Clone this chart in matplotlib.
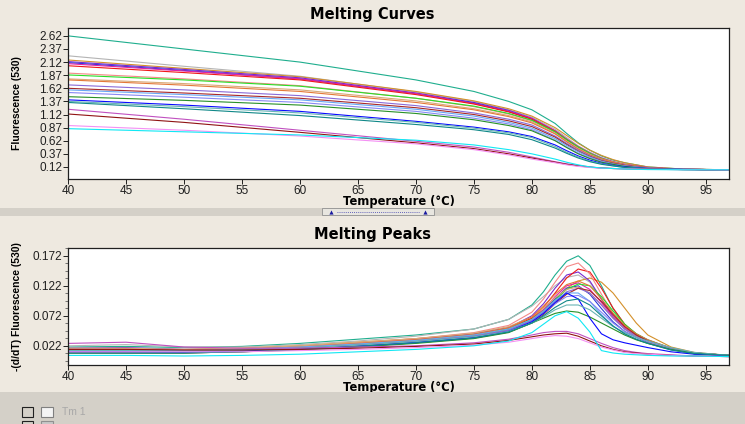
import numpy as np
import matplotlib
matplotlib.use("Agg")
import matplotlib.pyplot as plt
from matplotlib.patches import Rectangle
from matplotlib.ticker import MultipleLocator, FixedLocator

# temperature grids the values were read at
temp_curves = [40, 50, 60, 70, 75, 78, 80, 82, 83, 84, 85, 86, 87, 88, 90, 93, 97]
temp_peaks = [40, 45, 50, 55, 60, 65, 70, 75, 78, 80, 81, 82, 83, 84, 85, 86, 87, 88, 89, 90, 92, 94, 97]

colors = ['#1fae8e', '#b4b4b4', '#d4902a', '#7a2ad0', '#2a3ad8', '#e020a8', '#f01818',
          '#f48888', '#28e028', '#d8aa78', '#e47838', '#8a6ad8', '#a82828', '#68a8f4',
          '#8888f4', '#289028', '#0808ff', '#68b4b4', '#108888', '#c050c0', '#901414',
          '#f490f4', '#10e8f4']

# Fluorescence (530), one row per sample
fluor = [
    [2.62, 2.37, 2.12, 1.78, 1.56, 1.37, 1.21, 0.95, 0.76, 0.58, 0.44, 0.33, 0.25, 0.20, 0.12, 0.08, 0.065],
    [2.24, 2.04, 1.85, 1.55, 1.37, 1.21, 1.07, 0.84, 0.68, 0.52, 0.40, 0.30, 0.23, 0.18, 0.11, 0.08, 0.065],
    [2.16, 2.00, 1.84, 1.56, 1.38, 1.23, 1.09, 0.87, 0.72, 0.57, 0.44, 0.34, 0.26, 0.20, 0.12, 0.08, 0.065],
    [2.13, 1.98, 1.82, 1.53, 1.35, 1.20, 1.05, 0.81, 0.65, 0.50, 0.37, 0.28, 0.21, 0.16, 0.10, 0.075, 0.065],
    [2.11, 1.96, 1.80, 1.52, 1.34, 1.18, 1.03, 0.79, 0.63, 0.48, 0.36, 0.27, 0.21, 0.16, 0.10, 0.075, 0.065],
    [2.09, 1.95, 1.80, 1.52, 1.33, 1.18, 1.04, 0.81, 0.65, 0.51, 0.39, 0.29, 0.22, 0.17, 0.11, 0.075, 0.065],
    [2.05, 1.92, 1.78, 1.50, 1.32, 1.17, 1.03, 0.80, 0.64, 0.49, 0.36, 0.27, 0.21, 0.16, 0.10, 0.075, 0.065],
    [1.91, 1.80, 1.67, 1.43, 1.27, 1.13, 1.00, 0.78, 0.62, 0.48, 0.36, 0.27, 0.21, 0.16, 0.10, 0.075, 0.065],
    [1.875, 1.78, 1.66, 1.43, 1.28, 1.14, 1.01, 0.79, 0.64, 0.50, 0.38, 0.28, 0.21, 0.16, 0.10, 0.075, 0.065],
    [1.80, 1.71, 1.59, 1.38, 1.23, 1.10, 0.98, 0.76, 0.61, 0.47, 0.36, 0.27, 0.21, 0.16, 0.10, 0.075, 0.065],
    [1.78, 1.68, 1.56, 1.35, 1.21, 1.08, 0.96, 0.75, 0.60, 0.46, 0.35, 0.27, 0.21, 0.16, 0.10, 0.075, 0.065],
    [1.685, 1.59, 1.48, 1.29, 1.15, 1.03, 0.92, 0.71, 0.57, 0.44, 0.33, 0.25, 0.19, 0.15, 0.10, 0.075, 0.065],
    [1.62, 1.53, 1.43, 1.25, 1.12, 1.00, 0.89, 0.69, 0.55, 0.42, 0.32, 0.24, 0.19, 0.15, 0.10, 0.075, 0.065],
    [1.59, 1.50, 1.40, 1.22, 1.09, 0.97, 0.86, 0.66, 0.53, 0.41, 0.31, 0.23, 0.18, 0.14, 0.095, 0.075, 0.065],
    [1.54, 1.45, 1.35, 1.18, 1.05, 0.94, 0.83, 0.63, 0.50, 0.38, 0.29, 0.22, 0.17, 0.14, 0.095, 0.075, 0.065],
    [1.46, 1.39, 1.30, 1.14, 1.02, 0.91, 0.81, 0.62, 0.49, 0.37, 0.28, 0.21, 0.17, 0.13, 0.09, 0.072, 0.065],
    [1.40, 1.30, 1.18, 0.99, 0.88, 0.79, 0.70, 0.54, 0.43, 0.33, 0.25, 0.19, 0.15, 0.12, 0.09, 0.072, 0.065],
    [1.37, 1.27, 1.15, 0.97, 0.86, 0.77, 0.68, 0.51, 0.40, 0.31, 0.23, 0.18, 0.14, 0.11, 0.085, 0.07, 0.065],
    [1.35, 1.23, 1.10, 0.93, 0.83, 0.74, 0.64, 0.48, 0.38, 0.29, 0.22, 0.17, 0.14, 0.11, 0.085, 0.07, 0.065],
    [1.22, 1.03, 0.82, 0.61, 0.50, 0.40, 0.31, 0.22, 0.18, 0.15, 0.12, 0.10, 0.09, 0.085, 0.075, 0.07, 0.065],
    [1.13, 0.97, 0.78, 0.58, 0.47, 0.37, 0.29, 0.21, 0.17, 0.14, 0.115, 0.10, 0.09, 0.085, 0.075, 0.07, 0.065],
    [0.91, 0.82, 0.71, 0.56, 0.45, 0.35, 0.27, 0.20, 0.16, 0.13, 0.11, 0.095, 0.09, 0.085, 0.075, 0.07, 0.065],
    [0.85, 0.79, 0.73, 0.63, 0.54, 0.45, 0.37, 0.27, 0.21, 0.16, 0.12, 0.10, 0.09, 0.08, 0.07, 0.065, 0.065],
]

# -(d/dT) Fluorescence (530), same sample order
deriv = [
    [0.020, 0.021, 0.019, 0.021, 0.026, 0.033, 0.040, 0.050, 0.066, 0.090, 0.112, 0.140, 0.163, 0.172, 0.156, 0.122, 0.084, 0.058, 0.042, 0.032, 0.018, 0.010, 0.006],
    [0.022, 0.024, 0.020, 0.020, 0.024, 0.030, 0.038, 0.050, 0.066, 0.088, 0.104, 0.122, 0.136, 0.140, 0.128, 0.100, 0.072, 0.052, 0.038, 0.028, 0.016, 0.009, 0.006],
    [0.016, 0.017, 0.016, 0.018, 0.022, 0.028, 0.034, 0.042, 0.052, 0.068, 0.082, 0.100, 0.118, 0.130, 0.135, 0.128, 0.110, 0.085, 0.060, 0.040, 0.020, 0.011, 0.006],
    [0.018, 0.019, 0.016, 0.017, 0.021, 0.027, 0.033, 0.042, 0.052, 0.072, 0.092, 0.118, 0.140, 0.145, 0.130, 0.100, 0.070, 0.050, 0.037, 0.028, 0.016, 0.009, 0.006],
    [0.013, 0.013, 0.012, 0.014, 0.018, 0.023, 0.029, 0.037, 0.047, 0.064, 0.080, 0.100, 0.118, 0.122, 0.108, 0.084, 0.062, 0.046, 0.036, 0.028, 0.016, 0.009, 0.006],
    [0.012, 0.012, 0.012, 0.014, 0.018, 0.024, 0.030, 0.038, 0.048, 0.066, 0.082, 0.104, 0.122, 0.127, 0.116, 0.094, 0.070, 0.052, 0.040, 0.031, 0.018, 0.010, 0.006],
    [0.014, 0.015, 0.014, 0.016, 0.020, 0.026, 0.032, 0.040, 0.050, 0.068, 0.086, 0.110, 0.135, 0.150, 0.145, 0.118, 0.085, 0.058, 0.040, 0.029, 0.016, 0.009, 0.006],
    [0.016, 0.016, 0.015, 0.017, 0.021, 0.027, 0.034, 0.044, 0.056, 0.078, 0.100, 0.128, 0.154, 0.160, 0.142, 0.108, 0.076, 0.054, 0.040, 0.030, 0.017, 0.010, 0.006],
    [0.014, 0.014, 0.013, 0.015, 0.019, 0.025, 0.031, 0.040, 0.050, 0.066, 0.080, 0.098, 0.116, 0.125, 0.122, 0.104, 0.080, 0.058, 0.042, 0.031, 0.017, 0.010, 0.006],
    [0.018, 0.018, 0.016, 0.018, 0.022, 0.028, 0.034, 0.043, 0.054, 0.070, 0.085, 0.102, 0.116, 0.120, 0.110, 0.090, 0.068, 0.050, 0.038, 0.029, 0.017, 0.010, 0.006],
    [0.015, 0.015, 0.014, 0.016, 0.020, 0.026, 0.032, 0.041, 0.052, 0.070, 0.088, 0.108, 0.124, 0.130, 0.122, 0.100, 0.076, 0.056, 0.042, 0.032, 0.018, 0.010, 0.006],
    [0.013, 0.013, 0.012, 0.014, 0.018, 0.023, 0.029, 0.038, 0.048, 0.064, 0.078, 0.096, 0.112, 0.118, 0.110, 0.090, 0.068, 0.050, 0.039, 0.030, 0.017, 0.010, 0.006],
    [0.010, 0.010, 0.010, 0.012, 0.016, 0.021, 0.027, 0.035, 0.045, 0.060, 0.074, 0.092, 0.108, 0.118, 0.114, 0.096, 0.074, 0.054, 0.040, 0.030, 0.017, 0.010, 0.006],
    [0.015, 0.015, 0.014, 0.016, 0.020, 0.025, 0.031, 0.040, 0.050, 0.066, 0.080, 0.098, 0.110, 0.110, 0.096, 0.074, 0.055, 0.042, 0.033, 0.026, 0.015, 0.009, 0.006],
    [0.012, 0.012, 0.011, 0.013, 0.017, 0.022, 0.028, 0.036, 0.046, 0.062, 0.076, 0.092, 0.104, 0.106, 0.096, 0.078, 0.060, 0.046, 0.036, 0.029, 0.017, 0.010, 0.006],
    [0.010, 0.010, 0.010, 0.012, 0.015, 0.020, 0.026, 0.034, 0.044, 0.060, 0.068, 0.076, 0.080, 0.078, 0.070, 0.060, 0.050, 0.040, 0.032, 0.026, 0.016, 0.010, 0.006],
    [0.012, 0.012, 0.011, 0.013, 0.017, 0.022, 0.028, 0.036, 0.046, 0.062, 0.076, 0.094, 0.110, 0.100, 0.068, 0.042, 0.032, 0.027, 0.023, 0.019, 0.012, 0.008, 0.005],
    [0.014, 0.014, 0.013, 0.015, 0.018, 0.023, 0.029, 0.037, 0.046, 0.060, 0.070, 0.082, 0.090, 0.090, 0.082, 0.068, 0.054, 0.044, 0.036, 0.030, 0.019, 0.011, 0.006],
    [0.010, 0.010, 0.010, 0.012, 0.016, 0.021, 0.027, 0.035, 0.045, 0.060, 0.072, 0.086, 0.097, 0.100, 0.090, 0.072, 0.055, 0.042, 0.033, 0.026, 0.015, 0.009, 0.006],
    [0.026, 0.028, 0.020, 0.018, 0.018, 0.020, 0.022, 0.027, 0.033, 0.040, 0.044, 0.046, 0.046, 0.042, 0.034, 0.026, 0.019, 0.014, 0.011, 0.009, 0.007, 0.005, 0.004],
    [0.016, 0.016, 0.015, 0.015, 0.016, 0.018, 0.021, 0.025, 0.031, 0.037, 0.040, 0.042, 0.043, 0.038, 0.030, 0.022, 0.016, 0.012, 0.010, 0.008, 0.006, 0.005, 0.004],
    [0.012, 0.012, 0.012, 0.012, 0.014, 0.016, 0.019, 0.023, 0.028, 0.034, 0.037, 0.039, 0.038, 0.034, 0.027, 0.020, 0.015, 0.011, 0.009, 0.008, 0.006, 0.005, 0.004],
    [0.006, 0.006, 0.005, 0.006, 0.008, 0.012, 0.016, 0.022, 0.030, 0.044, 0.058, 0.072, 0.079, 0.068, 0.045, 0.014, 0.010, 0.008, 0.007, 0.006, 0.005, 0.005, 0.004],
]

curve_ticks = [0.12, 0.37, 0.62, 0.87, 1.12, 1.37, 1.62, 1.87, 2.12, 2.37, 2.62]
peak_ticks = [0.022, 0.072, 0.122, 0.172]

bg = '#eee9e0'
panel_grey = '#d4d0c8'
W, H = 745.0, 424.0
plt.rcParams['font.family'] = ['Liberation Sans', 'DejaVu Sans']

fig = plt.figure(figsize=(7.45, 4.24), dpi=100, facecolor=bg)


def fx(px):
    return px / W


def fy(py):
    return 1 - py / H


# axes boxes measured in pixels: left, top, right, bottom
ax1 = fig.add_axes([fx(68), fy(179), fx(729 - 68), (179 - 28) / H])
ax2 = fig.add_axes([fx(68), fy(365), fx(729 - 68), (365 - 248) / H])

for i, c in enumerate(colors):
    ax1.plot(temp_curves, fluor[i], color=c, lw=0.8)
    ax2.plot(temp_peaks, deriv[i], color=c, lw=0.8)

ax1.set_ylim(-0.11, 2.77)
ax1.yaxis.set_major_locator(FixedLocator(curve_ticks))
ax1.set_yticklabels(['%.2f' % t for t in curve_ticks])
ax2.set_ylim(-0.010, 0.185)
ax2.yaxis.set_major_locator(FixedLocator(peak_ticks))
ax2.set_yticklabels(['%.3f' % t for t in peak_ticks])
ax2.yaxis.set_minor_locator(FixedLocator(np.arange(-0.0155, 0.185, 0.0125)))

for ax, ax_h in ((ax1, 151.0), (ax2, 117.0)):
    ax.set_xlim(40, 97)
    ax.xaxis.set_major_locator(MultipleLocator(5))
    ax.set_facecolor('white')
    for s in ax.spines.values():
        s.set_linewidth(0.9)
        s.set_color('#202020')
    ax.tick_params(direction='out', length=3.5, width=0.7, labelsize=8.5, pad=0.8, colors='#202020')
    ax.tick_params(which='minor', length=2.5, width=0.6, colors='#606060')
    ax.set_xlabel('Temperature (\u00b0C)', fontsize=8.3, fontweight='bold', family='DejaVu Sans')
    ax.xaxis.set_label_coords(0.5, -23 / ax_h)
    ax.xaxis.label.set_verticalalignment('center')

ax1.set_ylabel('Fluorescence (530)', fontsize=7.5, fontweight='bold')
ax1.yaxis.set_label_coords(-46 / 661.0, 0.5)
ax2.set_ylabel('-(d/dT) Fluorescence (530)', fontsize=7.5, fontweight='bold')
ax2.yaxis.set_label_coords(-46 / 661.0, 0.5)

fig.text(0.5, fy(14), 'Melting Curves', ha='center', va='center',
         fontsize=10.5, fontweight='bold', family='DejaVu Sans')
fig.text(0.5, fy(234), 'Melting Peaks', ha='center', va='center',
         fontsize=10.5, fontweight='bold', family='DejaVu Sans')

# splitter band between the panels
fig.patches.append(Rectangle((0, fy(216)), 1, 8.5 / H, transform=fig.transFigure,
                             facecolor=panel_grey, edgecolor='none', zorder=0))
fig.patches.append(Rectangle((fx(322), fy(215)), 112 / W, 7 / H, transform=fig.transFigure,
                             facecolor='#e8e6e0', edgecolor='#909090', lw=0.6, zorder=1))
for bx in (331, 425):
    fig.lines.append(plt.Line2D([fx(bx)], [fy(211.5)], transform=fig.transFigure, marker='^',
                                ms=3, color='#1a1aa0', mec='none', ls='none'))
fig.lines.append(plt.Line2D([fx(337), fx(419)], [fy(211.5)] * 2, transform=fig.transFigure,
                            color='#3a3ab0', lw=0.6, ls=(0, (1, 1.5))))

# bottom legend strip
fig.patches.append(Rectangle((0, 0), 1, 32 / H, transform=fig.transFigure,
                             facecolor=panel_grey, edgecolor='none', zorder=0))
fig.patches.append(Rectangle((fx(22), fy(417)), 11 / W, 10 / H, transform=fig.transFigure,
                             facecolor='none', edgecolor='#202020', lw=0.8, zorder=1))
fig.patches.append(Rectangle((fx(41), fy(417)), 12 / W, 10 / H, transform=fig.transFigure,
                             facecolor='#f4f4f4', edgecolor='#808080', lw=0.8, zorder=1))
fig.text(fx(62), fy(412), 'Tm 1', color='#a8a8a8', fontsize=7.5, va='center')
fig.patches.append(Rectangle((fx(22), -4 / H), 11 / W, 7 / H, transform=fig.transFigure,
                             facecolor='none', edgecolor='#202020', lw=0.8, zorder=1))
fig.patches.append(Rectangle((fx(41), -4 / H), 12 / W, 7 / H, transform=fig.transFigure,
                             facecolor='#c8c8c8', edgecolor='#909090', lw=0.8, zorder=1))

fig.savefig('out.png', dpi=100, facecolor=bg)
